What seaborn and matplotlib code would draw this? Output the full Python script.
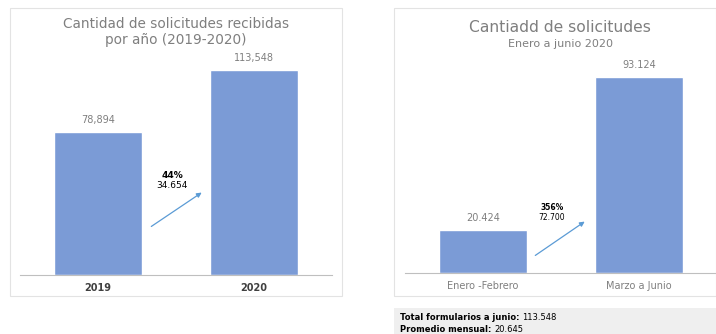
import matplotlib
matplotlib.use("Agg")
import matplotlib.pyplot as plt
from matplotlib.patches import Rectangle
import seaborn as sns
import pandas as pd

# data
years = ["2019", "2020"]
year_counts = [78894, 113548]
year_change_pct = "44%"
year_change_abs = "34.654"

periods = ["Enero -Febrero", "Marzo a Junio"]
period_counts = [20424, 93124]
period_change_pct = "356%"
period_change_abs = "72.700"

total_junio = "113.548"
promedio_mensual = "20.645"

W, H = 716, 334
BAR = "#7b9bd6"
ARROW = "#5b9bd5"
GREY_TXT = "#7f7f7f"

sns.set_theme(style="white")
plt.rcParams["font.family"] = ["DejaVu Sans"]


def fx(x):
    return x / W


def fy(y):
    return 1 - y / H


def axes_px(fig, left, top, right, bottom):
    return fig.add_axes([fx(left), fy(bottom), (right - left) / W, (bottom - top) / H])


fig = plt.figure(figsize=(W / 100, H / 100), dpi=100)

# panel frames and the grey summary box
fig.patches.append(Rectangle((fx(10), fy(296)), (342 - 10) / W, (296 - 8) / H,
                             transform=fig.transFigure, fill=False, ec="#e3e3e3", lw=0.8))
fig.patches.append(Rectangle((fx(394), fy(296)), (716 - 394) / W, (296 - 8) / H,
                             transform=fig.transFigure, fill=False, ec="#e3e3e3", lw=0.8))
fig.patches.append(Rectangle((fx(394), fy(334)), (716 - 394) / W, (334 - 308) / H,
                             transform=fig.transFigure, fill=True, fc="#efefef", ec="none"))


def draw_panel(ax, cats, vals, ymax, fmt, tick_kw):
    df = pd.DataFrame({"cat": cats, "val": vals})
    sns.barplot(data=df, x="cat", y="val", color=BAR, width=0.56, saturation=1, ax=ax)
    ax.set_xlim(-0.5, 1.5)
    ax.set_ylim(0, ymax)
    ax.set_xlabel("")
    ax.set_ylabel("")
    ax.set_yticks([])
    for s in ["top", "right", "left"]:
        ax.spines[s].set_visible(False)
    ax.spines["bottom"].set_color("#bfbfbf")
    ax.spines["bottom"].set_linewidth(0.8)
    ax.tick_params(axis="x", length=0, pad=6)
    for lbl in ax.get_xticklabels():
        lbl.set(**tick_kw)
    for i, v in enumerate(vals):
        ax.annotate(fmt(v), (i, v), xytext=(0, 5), textcoords="offset points",
                    ha="center", va="bottom", fontsize=7, color=GREY_TXT)
    ax.patch.set_alpha(0)


# left panel: per year
ax1 = axes_px(fig, 20, 49, 332, 275)
draw_panel(ax1, years, year_counts, 125000, lambda v: f"{v:,}",
           dict(fontsize=7, fontweight="bold", color="#404040"))
fig.text(fx(176), fy(24), "Cantidad de solicitudes recibidas", ha="center", va="center",
         fontsize=9.8, color=GREY_TXT)
fig.text(fx(176), fy(40), "por año (2019-2020)", ha="center", va="center",
         fontsize=9.8, color=GREY_TXT)
fig.text(fx(172), fy(175), year_change_pct, ha="center", va="center",
         fontsize=6.5, fontweight="bold", color="black")
fig.text(fx(172), fy(186), year_change_abs, ha="center", va="center",
         fontsize=6.5, color="black")
ax1.annotate("", xy=(fx(204), fy(191)), xytext=(fx(149), fy(228)),
             xycoords="figure fraction", textcoords="figure fraction",
             arrowprops=dict(arrowstyle="-|>", color=ARROW, lw=0.9, mutation_scale=7))

# right panel: january to june
ax2 = axes_px(fig, 405, 60, 717, 273)
draw_panel(ax2, periods, period_counts, 101200, lambda v: f"{v:,}".replace(",", "."),
           dict(fontsize=7, color=GREY_TXT))
fig.text(fx(560), fy(27), "Cantiadd de solicitudes", ha="center", va="center",
         fontsize=11.2, color=GREY_TXT)
fig.text(fx(560), fy(44), "Enero a junio 2020", ha="center", va="center",
         fontsize=8, color=GREY_TXT)
fig.text(fx(552), fy(207), period_change_pct, ha="center", va="center",
         fontsize=5.5, fontweight="bold", color="black")
fig.text(fx(552), fy(217), period_change_abs, ha="center", va="center",
         fontsize=5.5, color="black")
ax2.annotate("", xy=(fx(587), fy(220)), xytext=(fx(533), fy(257)),
             xycoords="figure fraction", textcoords="figure fraction",
             arrowprops=dict(arrowstyle="-|>", color=ARROW, lw=0.9, mutation_scale=7))

# summary lines below the right panel
for y, label, value in [(318, "Total formularios a junio:", total_junio),
                        (329, "Promedio mensual:", promedio_mensual)]:
    t = fig.text(fx(400), fy(y), label, ha="left", va="center",
                 fontsize=6, fontweight="bold", color="black")
    fig.canvas.draw()
    bb = t.get_window_extent()
    fig.text(bb.x1 / W + 3 / W, fy(y), value, ha="left", va="center",
             fontsize=6, color="black")

fig.savefig("out.png", dpi=100, facecolor="white")
